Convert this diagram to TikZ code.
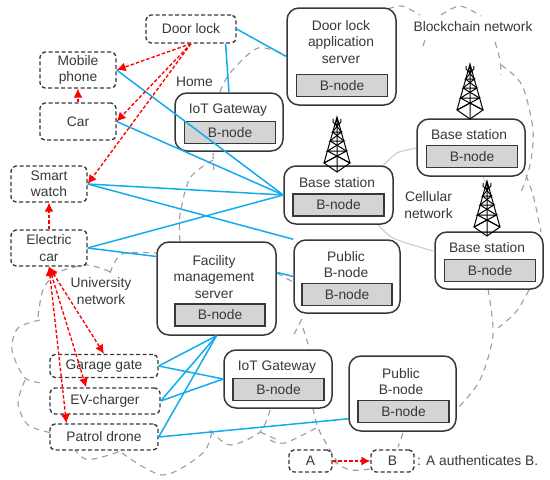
\documentclass[tikz,border=0pt]{standalone}
\usepackage{fontspec}
\setmainfont{Liberation Sans}
\usetikzlibrary{arrows.meta}
\definecolor{inkgray}{HTML}{383838}
\definecolor{linkblue}{HTML}{12ACEE}
\definecolor{cloudgray}{HTML}{A0A0A0}
\definecolor{cellgray}{HTML}{D0D0D0}
\definecolor{nodegray}{HTML}{D4D4D4}
\tikzset{
label/.style={text=inkgray,font=\fontsize{13.8}{16.2}\selectfont,align=center,inner sep=0pt},
device/.style={label,draw=inkgray,line width=1.35pt,dash pattern=on 4pt off 2.5pt,rounded corners=5pt,fill=white},
server/.style={draw=inkgray,line width=1.5pt,rounded corners=12pt,fill=white},
bnode/.style={label,draw=inkgray,line width=1.5pt,fill=nodegray,minimum width=91pt,minimum height=22pt},
link/.style={draw=linkblue,line width=1.5pt},
auth/.style={draw=red,line width=1.35pt,dash pattern=on 3.5pt off 2pt,-{Latex[length=9pt,width=9pt]}},
authboth/.style={auth,{Latex[length=9pt,width=9pt]}-{Latex[length=9pt,width=9pt]}},
cloud/.style={draw=cloudgray,line width=1.15pt,dash pattern=on 6pt off 5pt},
cell/.style={draw=cellgray,line width=1.2pt},
tower/.pic={
\draw[black,line width=1pt] (-13,-9) -- (0,-55) -- (13,-9) (0,0) -- (0,-55);
\draw[black,line width=1pt] (-13,-9) -- (0,-16) -- (13,-9) -- (0,0) -- cycle;
\draw[black,line width=1pt] (-13,-9) -- (9.5,-21) -- (-9.5,-21) -- (7,-31) -- (-7,-31) -- (4.5,-40) -- (-4.5,-40) -- (2,-48) -- (-2,-48);
\draw[black,line width=1pt] (13,-9) -- (-9.5,-21) (9.5,-21) -- (-7,-31) (7,-31) -- (-4.5,-40) (4.5,-40) -- (-2,-48);
\draw[black,line width=1pt] (-4,-53) arc (200:-20:4.2);
}
}
\begin{document}
\begin{tikzpicture}[x=1pt,y=-1pt]
\useasboundingbox (0,0) rectangle (550,480);

\draw[cloud] plot[smooth] coordinates {(220,92) (230,73) (258,48) (288,56)};
\draw[cloud] plot[smooth] coordinates {(388,9) (402,6) (420,15)};
\draw[cloud] plot[smooth] coordinates {(441,15) (460,6) (481,16)};
\draw[cloud] plot[smooth] coordinates {(423,46) (425,40)};
\draw[cloud] plot[smooth] coordinates {(495,42) (500,60) (501,75)};
\draw[cloud] plot[smooth] coordinates {(501,65) (522,85) (533,130) (530,165) (520,195)};
\draw[cloud] plot[smooth] coordinates {(522,165) (533,195) (541,232)};
\draw[cloud] plot[smooth] coordinates {(488,289) (493,335) (480,380) (458,408)};
\draw[cloud] plot[smooth] coordinates {(529,290) (516,312) (498,328)};
\draw[cloud] plot[smooth] coordinates {(403,433) (398,447)};
\draw[cloud] plot[smooth] coordinates {(333,461) (350,470) (370,469)};
\draw[cloud] plot[smooth] coordinates {(313,408) (318,428) (330,450) (340,466)};
\draw[cloud] plot[smooth] coordinates {(270,440) (285,443) (318,427)};
\draw[cloud] plot[smooth] coordinates {(213,153) (214,174)};
\draw[cloud] plot[smooth] coordinates {(213,160) (190,178) (180,215) (180,242)};
\draw[cloud] plot[smooth] coordinates {(277,273) (293,282)};
\draw[cloud] plot[smooth] coordinates {(302,319) (292,338)};
\draw[cloud] plot[smooth] coordinates {(303,328) (310,350)};
\draw[cloud] plot[smooth] coordinates {(38,317) (43,290) (57,273) (87,265) (113,273)};
\draw[cloud] plot[smooth] coordinates {(110,273) (122,254) (157,253)};
\draw[cloud] plot[smooth] coordinates {(40,320) (18,328) (12,350) (25,378) (45,383)};
\draw[cloud] plot[smooth] coordinates {(25,380) (18,403) (28,425) (52,433)};
\draw[cloud] plot[smooth] coordinates {(62,430) (85,459) (123,450)};
\draw[cloud] plot[smooth] coordinates {(122,453) (163,475) (203,453) (212,430)};
\draw[cloud] plot[smooth] coordinates {(210,430) (230,445) (260,432) (270,410)};
\draw[cloud] plot[smooth] coordinates {(260,432) (280,441)};
\draw[cell] plot[smooth] coordinates {(417,148) (397,153) (382,167)};
\draw[cell] plot[smooth] coordinates {(377,223) (393,238) (433,251)};
\draw[cell] (483,176) -- (486,184);

\node[device,minimum width=90pt,minimum height=28pt] (dlock) at (191,29) {Door lock};
\node[device,minimum width=76pt,minimum height=36pt] (mobile) at (78,70) {Mobile\\phone};
\node[device,minimum width=76pt,minimum height=37pt] (car) at (78,121.5) {Car};
\node[device,minimum width=76pt,minimum height=36pt] (watch) at (49,184) {Smart\\watch};
\node[device,minimum width=76pt,minimum height=36pt] (ecar) at (49,248) {Electric\\car};
\node[device,minimum width=108pt,minimum height=23pt] (garage) at (104,366) {Garage gate};
\node[device,minimum width=110pt,minimum height=26pt] (ev) at (105,401) {EV-charger};
\node[device,minimum width=108pt,minimum height=26pt] (drone) at (104,437) {Patrol drone};
\node[device,minimum width=43pt,minimum height=22pt] (legA) at (310.5,461) {A};
\node[device,minimum width=43pt,minimum height=22pt] (legB) at (392.5,461) {B};

\node[server,minimum width=108pt,minimum height=58pt] (gw1) at (229,122) {};
\node[label] (gw1t) at (228,110) {IoT Gateway};
\node[bnode] (gw1b) at (230,132.5) {B-node};
\node[server,minimum width=109pt,minimum height=97pt] (door) at (341.5,56.5) {};
\node[label] (doort) at (341,42) {Door lock\\application\\server};
\node[bnode] (doorb) at (342,85.5) {B-node};
\node[server,minimum width=109pt,minimum height=58pt] (base1) at (338.5,195) {};
\node[label] (base1t) at (337,183) {Base station};
\node[bnode] (base1b) at (338.5,205) {B-node};
\node[server,minimum width=108pt,minimum height=57pt] (base2) at (471,147.5) {};
\node[label] (base2t) at (469,134.5) {Base station};
\node[bnode] (base2b) at (472,156.5) {B-node};
\node[server,minimum width=108pt,minimum height=57pt] (base3) at (489,260.5) {};
\node[label] (base3t) at (487,248) {Base station};
\node[bnode] (base3b) at (490,270.5) {B-node};
\node[server,minimum width=106pt,minimum height=73pt] (pub1) at (347,276.5) {};
\node[label] (pub1t) at (346,264.5) {Public\\B-node};
\node[bnode,minimum width=90pt] (pub1b) at (347,294.5) {B-node};
\node[server,minimum width=119pt,minimum height=93pt] (fac) at (216.5,288.5) {};
\node[label] (fact) at (214,277) {Facility\\management\\server};
\node[bnode,minimum width=90pt] (facb) at (220,315) {B-node};
\node[server,minimum width=108pt,minimum height=58pt] (gw2) at (278,379) {};
\node[label] (gw2t) at (277,367) {IoT Gateway};
\node[bnode] (gw2b) at (278.5,389.5) {B-node};
\node[server,minimum width=107pt,minimum height=75pt] (pub2) at (402.5,393.5) {};
\node[label] (pub2t) at (401,381.5) {Public\\B-node};
\node[bnode] (pub2b) at (403.5,411.5) {B-node};

\pic at (337,172) {tower};
\pic at (470,119) {tower};
\pic at (487,236) {tower};

\node[label] (home) at (194.5,82) {Home};
\node[label] (chain) at (473,27) {Blockchain network};
\node[label] (cellnet) at (428.5,205) {Cellular\\network};
\node[label] (uninet) at (101,291) {University\\network};
\node[label,anchor=west] (legtext) at (417,461) {: A authenticates B.};

\draw[link] (dlock.east) -- (door.west);
\draw[link] (dlock.-23) -- (gw1.north);
\draw[link] (mobile.east) -- (base1.west);
\draw[link] (car.east) -- (base1.west);
\draw[link] (watch.east) -- (base1.west);
\draw[link] (watch.east) -- (pub1.north west);
\draw[link] (ecar.east) -- (base1.west);
\draw[link] (ecar.east) -- (fac.152);
\draw[link] (fac.15) -- (pub1.west);
\draw[link] (garage.east) -- (fac.south);
\draw[link] (garage.east) -- (gw2.west);
\draw[link] (ev.east) -- (fac.south);
\draw[link] (ev.east) -- (gw2.west);
\draw[link] (drone.east) -- (fac.south);
\draw[link] (drone.east) -- (pub2.205);

\draw[auth] (dlock.south) -- (mobile.east);
\draw[auth] (dlock.south) -- (car.east);
\draw[auth] (dlock.south) -- (watch.east);
\draw[auth] (car.north) -- (mobile.south);
\draw[auth] (ecar.north) -- (watch.south);
\draw[authboth] (ecar.south) -- (garage.north);
\draw[authboth] (ecar.south) -- (ev.144);
\draw[authboth] (ecar.south) -- (drone.160);
\draw[auth] (legA.east) -- (legB.west);
\end{tikzpicture}
\end{document}
